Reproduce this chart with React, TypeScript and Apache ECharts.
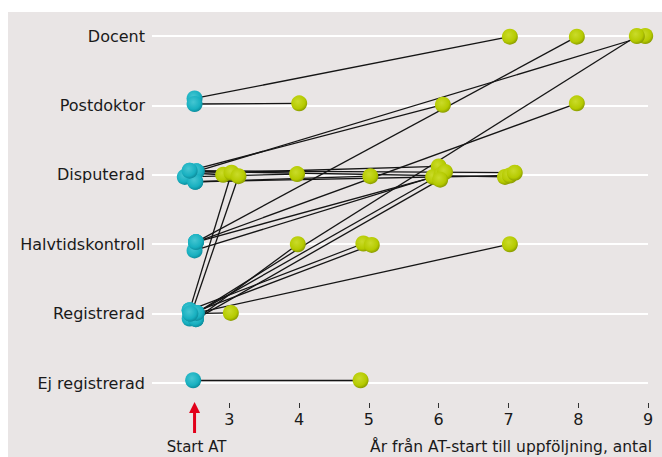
import React, { useEffect, useRef } from "react";
import * as echarts from "echarts";

const categories = ["Docent", "Postdoktor", "Disputerad", "Halvtidskontroll", "Registrerad", "Ej registrerad"];
const xTicks = [3, 4, 5, 6, 7, 8, 9];
const startAT = 2.5;
const xTitle = "År från AT-start till uppföljning, antal";
const startLabel = "Start AT";

// one entry per person: position at AT start (teal) and at follow-up (green)
const startX = [2.5, 2.5, 2.53, 2.43, 2.5, 2.36, 2.51, 2.5, 2.53, 2.51, 2.43, 2.52, 2.52, 2.5, 2.52, 2.53, 2.43, 2.43, 2.53, 2.52, 2.52, 2.43, 2.44, 2.53, 2.44, 2.48];
const startY = [0.9, 0.98, 1.95, 1.94, 1.98, 2.03, 2.1, 1.98, 1.95, 2.1, 1.94, 2.97, 2.97, 3.09, 2.97, 3.99, 3.95, 4.07, 3.99, 4.08, 4.08, 3.95, 4.0, 3.99, 4.0, 4.96];
const endX = [7.02, 4.0, 8.96, 6.06, 2.91, 3.97, 5.02, 6.0, 6.95, 7.02, 7.09, 7.98, 7.98, 5.92, 6.04, 8.84, 3.03, 3.13, 6.09, 6.02, 3.98, 4.92, 5.04, 7.02, 3.02, 4.88];
const endY = [0.01, 0.97, 0.0, 0.99, 2.0, 1.99, 2.02, 1.88, 2.03, 2.01, 1.97, 0.01, 0.97, 2.03, 2.0, 0.0, 1.97, 2.02, 1.96, 2.07, 3.0, 2.99, 3.01, 3.0, 3.99, 4.96];

const FONT = "DejaVu Sans";
const TEXT = "#1a1a1a";

function ball(hi: string, mid: string, lo: string) {
  return {
    type: "radial",
    x: 0.42,
    y: 0.38,
    r: 0.62,
    colorStops: [
      { offset: 0, color: hi },
      { offset: 0.72, color: mid },
      { offset: 1, color: lo },
    ],
  };
}

export default function App() {
  const ref = useRef<HTMLDivElement>(null);
  useEffect(() => {
    if (!ref.current) return;
    const chart = echarts.init(ref.current, null, { renderer: "svg" });
    chart.setOption({
      animation: false,
      backgroundColor: "#e9e5e5",
      textStyle: { fontFamily: FONT },
      grid: { left: 144, right: 14, top: 24, bottom: 74, containLabel: false },
      xAxis: {
        type: "value",
        min: 1.89,
        max: 9,
        offset: 20,
        axisLine: { show: false, onZero: false },
        splitLine: { show: false },
        axisTick: { show: true, length: 5, customValues: xTicks, lineStyle: { color: "#333", width: 1 } },
        axisLabel: { customValues: xTicks, color: TEXT, fontSize: 16, fontFamily: FONT, margin: 8 },
      },
      yAxis: {
        type: "value",
        min: 0,
        max: categories.length - 1,
        interval: 1,
        inverse: true,
        axisLine: { show: false },
        axisTick: { show: false },
        splitLine: { show: true, lineStyle: { color: "#ffffff", width: 2 } },
        axisLabel: {
          color: TEXT,
          fontSize: 16,
          fontFamily: FONT,
          margin: 7,
          formatter: (v: number) => categories[Math.round(v)] ?? "",
        },
      },
      series: [
        {
          type: "lines",
          coordinateSystem: "cartesian2d",
          silent: true,
          z: 2,
          lineStyle: { color: "#151515", width: 1.3, opacity: 1 },
          data: startX.map((sx, i) => ({ coords: [[sx, startY[i]], [endX[i], endY[i]]] })),
        },
        {
          type: "scatter",
          z: 3,
          clip: false,
          symbolSize: 16,
          itemStyle: { color: ball("#cadb2a", "#b5ca00", "#8c9e00"), opacity: 1 },
          data: endX.map((x, i) => [x, endY[i]]),
        },
        {
          type: "scatter",
          z: 4,
          clip: false,
          symbolSize: 16,
          itemStyle: { color: ball("#45c6d2", "#18b0c0", "#0d8e9e"), opacity: 1 },
          data: startX.map((x, i) => [x, startY[i]]),
        },
      ],
    });
    const p = chart.convertToPixel({ xAxisIndex: 0, yAxisIndex: 0 }, [startAT, categories.length - 1]) as number[];
    const ax = p[0];
    const tipY = 390;
    chart.setOption({
      graphic: [
        {
          type: "polygon",
          shape: { points: [[ax, tipY], [ax - 5.5, tipY + 11], [ax + 5.5, tipY + 11]] },
          style: { fill: "#e2001a" },
        },
        {
          type: "rect",
          shape: { x: ax - 1.5, y: tipY + 10, width: 3, height: 21 },
          style: { fill: "#e2001a" },
        },
        {
          type: "text",
          x: ax + 2,
          y: 435,
          style: { text: startLabel, fill: TEXT, font: `15px "${FONT}"`, align: "center", verticalAlign: "middle" },
        },
        {
          type: "text",
          x: 644,
          y: 435,
          style: { text: xTitle, fill: TEXT, font: `15.5px "${FONT}"`, align: "right", verticalAlign: "middle" },
        },
      ],
    });
    return () => chart.dispose();
  }, []);
  return (
    <div
      ref={ref}
      style={{ position: "fixed", left: 8, top: 12, width: 654, height: 445 }}
    />
  );
}
